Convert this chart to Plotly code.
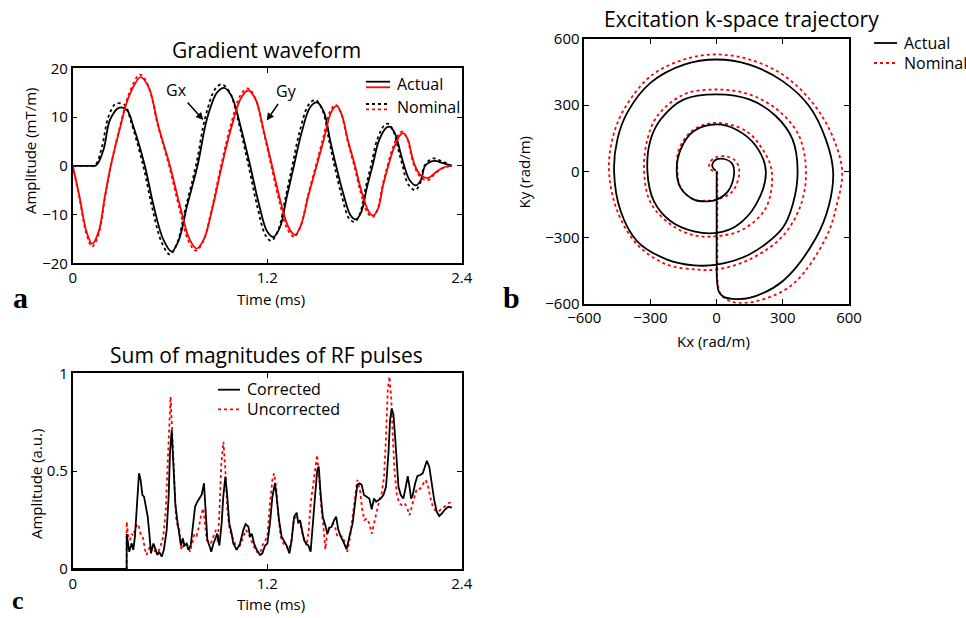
import plotly.graph_objects as go

W, H = 966, 618

# ---------------- panel a: gradient waveforms (mT/m vs ms) ----------------
gx_act_t = [0, 0.10, 0.145, 0.19, 0.23, 0.285, 0.335, 0.375, 0.445, 0.50, 0.56, 0.611, 0.655, 0.705, 0.77,
            0.83, 0.89, 0.934, 0.98, 1.04, 1.095, 1.15, 1.20, 1.238, 1.28, 1.32, 1.365, 1.41, 1.465, 1.507,
            1.55, 1.59, 1.625, 1.67, 1.715, 1.747, 1.78, 1.815, 1.85, 1.89, 1.935, 1.958, 1.99, 2.02, 2.045,
            2.08, 2.12, 2.15, 2.175, 2.23, 2.28, 2.338]
gx_act_v = [0, 0, 0.1, 3.3, 9.4, 11.9, 11.4, 8.0, 0, -8.3, -15.2, -17.6, -15.2, -8.3, 0,
            9.8, 15.0, 16.0, 14.3, 7.5, 0, -8.0, -13.5, -14.6, -12.5, -6.5, 0, 6.5, 12.0, 13.0,
            11.0, 5.0, 0, -5.8, -10.2, -11.0, -9.5, -4.5, 0, 5.2, 7.8, 8.0, 6.5, 3.0, 0,
            -3.0, -4.0, -2.8, 0, 1.0, 0.6, 0]

gx_nom_t = [0, 0.10, 0.14, 0.18, 0.22, 0.265, 0.32, 0.36, 0.435, 0.49, 0.55, 0.60, 0.645, 0.695, 0.76,
            0.82, 0.88, 0.92, 0.97, 1.03, 1.085, 1.14, 1.19, 1.225, 1.27, 1.31, 1.355, 1.40, 1.455, 1.497,
            1.54, 1.58, 1.615, 1.66, 1.705, 1.738, 1.77, 1.805, 1.84, 1.88, 1.925, 1.948, 1.98, 2.01, 2.035,
            2.07, 2.113, 2.145, 2.17, 2.22, 2.28, 2.338]
gx_nom_v = [0, 0, 0.2, 3.8, 10.0, 12.7, 12.5, 9.0, 0, -8.5, -15.8, -18.2, -15.8, -8.8, 0,
            10.2, 15.8, 16.7, 15.0, 8.0, 0, -8.5, -14.3, -15.4, -13.0, -7.0, 0, 7.0, 12.5, 13.5,
            11.5, 5.5, 0, -6.2, -10.8, -11.5, -10.0, -4.8, 0, 5.5, 8.4, 8.6, 7.0, 3.2, 0,
            -3.8, -5.0, -3.5, 0, 1.5, 0.9, 0]

gy_act_t = [0, 0.04, 0.085, 0.12, 0.16, 0.20, 0.235, 0.29, 0.35, 0.42, 0.47, 0.53, 0.60, 0.66, 0.72,
            0.765, 0.81, 0.86, 0.92, 0.98, 1.04, 1.085, 1.13, 1.18, 1.23, 1.28, 1.33, 1.372, 1.41, 1.455,
            1.505, 1.55, 1.595, 1.629, 1.66, 1.70, 1.742, 1.78, 1.825, 1.855, 1.885, 1.915, 1.947, 1.98,
            2.02, 2.04, 2.07, 2.09, 2.112, 2.15, 2.194, 2.24, 2.29, 2.338]
gy_act_v = [0, -6.0, -13.5, -16.0, -13.5, -6.0, 0, 7.5, 14.5, 18.2, 16.0, 8.0, 0, -8.0, -15.0,
            -17.0, -15.0, -9.0, 0, 8.0, 14.0, 15.5, 13.5, 7.0, 0, -7.0, -12.5, -14.2, -12.0, -6.0,
            0, 5.5, 11.0, 12.3, 10.5, 5.0, 0, -5.0, -9.3, -10.2, -8.7, -4.0, 0, 3.5,
            6.3, 6.7, 5.2, 2.5, 0, -2.0, -2.5, -1.3, -0.3, 0]

gy_nom_t = [0, 0.04, 0.085, 0.12, 0.16, 0.20, 0.235, 0.29, 0.35, 0.415, 0.465, 0.525, 0.595, 0.655, 0.715,
            0.76, 0.805, 0.855, 0.915, 0.975, 1.035, 1.08, 1.125, 1.175, 1.225, 1.275, 1.325, 1.367, 1.405, 1.45,
            1.50, 1.545, 1.59, 1.624, 1.655, 1.695, 1.737, 1.775, 1.82, 1.85, 1.88, 1.91, 1.942, 1.975,
            2.015, 2.035, 2.065, 2.085, 2.107, 2.145, 2.19, 2.235, 2.29, 2.338]
gy_nom_v = [0, -6.3, -14.0, -16.6, -14.0, -6.3, 0, 7.8, 15.0, 18.7, 16.5, 8.3, 0, -8.3, -15.5,
            -17.4, -15.5, -9.3, 0, 8.3, 14.5, 15.9, 14.0, 7.3, 0, -7.3, -13.0, -14.6, -12.5, -6.3,
            0, 5.7, 11.3, 12.5, 10.8, 5.2, 0, -5.3, -9.7, -10.5, -9.0, -4.3, 0, 3.7,
            6.6, 7.0, 5.5, 2.7, 0, -2.3, -3.0, -1.6, -0.4, 0]

# ---------------- panel b: excitation k-space trajectory (rad/m) ----------------
k_act_x = [0, 0, 0, 0, 0, 2, 10, 30, 72, 148, 299, 450, 510, 528, 495, 419, 299, 148, 0, -148, -299, -405,
           -450, -465, -435, -360, -224, -103, 0, 148, 299, 345, 367, 344, 268, 148, 0, -148, -254, -299,
           -314, -284, -208, -103, 0, 87, 178, 223, 178, 88, 0, -103, -163, -181, -163, -103, -42, 0,
           50, 78, 72, 35, -5, -20, -14, -3]
k_act_y = [0, -100, -200, -300, -400, -500, -545, -568, -578, -574, -498, -302, -150, 0, 145, 296, 409, 484,
           507, 484, 402, 266, 145, 0, -181, -317, -400, -426, -423, -377, -257, -150, 0, 145, 251, 326,
           349, 326, 235, 145, 0, -136, -226, -272, -279, -249, -151, 0, 115, 190, 213, 183, 100, 0, -75,
           -128, -136, -128, -92, -20, 32, 56, 52, 30, 12, 4]

k_nom_x = [3, 3, 3, 3, 3, 4, 19, 72, 178, 344, 495, 545, 569, 525, 435, 299, 148, 0, -148, -299, -420,
           -473, -488, -450, -360, -224, -88, 0, 148, 299, 382, 405, 374, 283, 148, 0, -148, -269, -314,
           -329, -299, -208, -103, 0, 118, 223, 250, 208, 133, 0, -103, -171, -178, -163, -103, -42, 0,
           72, 103, 85, 40, -8, -33, -28, -10]
k_nom_y = [0, -100, -200, -300, -400, -498, -558, -592, -589, -513, -302, -150, 0, 160, 311, 439, 507,
           530, 507, 432, 281, 145, 0, -181, -332, -423, -445, -445, -400, -294, -151, 0, 160, 273, 349,
           371, 349, 251, 145, 0, -143, -241, -290, -294, -264, -166, 0, 100, 183, 220, 190, 100, 0, -75,
           -128, -133, -128, -91, 0, 48, 68, 62, 36, 10, 0]

# ---------------- panel c: sum of RF pulse magnitudes (a.u.) ----------------
rf_cor_t = [0, 0.333, 0.3331, 0.349, 0.364, 0.374, 0.384, 0.395, 0.409, 0.419, 0.430, 0.440, 0.450, 0.463,
            0.473, 0.483, 0.498, 0.508, 0.522, 0.534, 0.549, 0.563, 0.580, 0.592, 0.600, 0.611, 0.621,
            0.633, 0.645, 0.658, 0.668, 0.679, 0.689, 0.703, 0.713, 0.728, 0.740, 0.755, 0.769, 0.785,
            0.796, 0.810, 0.821, 0.831, 0.843, 0.855, 0.868, 0.880, 0.892, 0.905, 0.919, 0.929, 0.942,
            0.954, 0.966, 0.981, 0.991, 1.012, 1.032, 1.053, 1.067, 1.084, 1.094, 1.105, 1.119, 1.135,
            1.156, 1.170, 1.187, 1.201, 1.217, 1.232, 1.248, 1.258, 1.273, 1.289, 1.304, 1.320, 1.337,
            1.351, 1.366, 1.382, 1.392, 1.403, 1.415, 1.427, 1.440, 1.454, 1.468, 1.481, 1.495, 1.509,
            1.518, 1.530, 1.543, 1.557, 1.572, 1.584, 1.598, 1.613, 1.625, 1.639, 1.654, 1.670, 1.690,
            1.707, 1.727, 1.742, 1.756, 1.769, 1.783, 1.797, 1.814, 1.830, 1.845, 1.859, 1.872, 1.886,
            1.900, 1.917, 1.933, 1.948, 1.958, 1.968, 1.979, 1.989, 2.000, 2.010, 2.024, 2.040, 2.055,
            2.067, 2.078, 2.088, 2.098, 2.113, 2.127, 2.144, 2.160, 2.174, 2.185, 2.200, 2.216, 2.231,
            2.246, 2.261, 2.277, 2.298, 2.318, 2.339]
rf_cor_v = [0, 0, 0.18, 0.088, 0.131, 0.098, 0.165, 0.30, 0.489, 0.455, 0.378, 0.37, 0.327, 0.267,
            0.18, 0.08, 0.13, 0.10, 0.072, 0.088, 0.063, 0.10, 0.20, 0.37, 0.59, 0.71, 0.54,
            0.336, 0.25, 0.18, 0.12, 0.157, 0.12, 0.13, 0.098, 0.12, 0.216, 0.318, 0.344, 0.37,
            0.38, 0.438, 0.30, 0.148, 0.12, 0.088, 0.13, 0.157, 0.18, 0.12, 0.233, 0.37, 0.472,
            0.37, 0.233, 0.18, 0.13, 0.098, 0.13, 0.20, 0.23, 0.216, 0.165, 0.18, 0.13, 0.098,
            0.072, 0.08, 0.12, 0.13, 0.233, 0.37, 0.438, 0.37, 0.25, 0.165, 0.14, 0.12, 0.08,
            0.148, 0.267, 0.288, 0.233, 0.25, 0.20, 0.148, 0.13, 0.12, 0.088, 0.25, 0.37, 0.506,
            0.523, 0.38, 0.267, 0.228, 0.18, 0.21, 0.216, 0.25, 0.267, 0.20, 0.165, 0.14, 0.10,
            0.165, 0.233, 0.336, 0.43, 0.438, 0.43, 0.378, 0.37, 0.36, 0.305, 0.36, 0.344, 0.35,
            0.36, 0.378, 0.42, 0.59, 0.76, 0.82, 0.79, 0.676, 0.54, 0.42, 0.378, 0.36, 0.42,
            0.475, 0.42, 0.36, 0.378, 0.438, 0.475, 0.48, 0.489, 0.531, 0.553, 0.523, 0.43, 0.35,
            0.293, 0.271, 0.283, 0.305, 0.318, 0.314]

rf_unc_t = [0, 0.333, 0.3331, 0.343, 0.354, 0.364, 0.374, 0.384, 0.399, 0.409, 0.419, 0.432, 0.446, 0.456,
            0.467, 0.481, 0.498, 0.514, 0.528, 0.543, 0.559, 0.574, 0.586, 0.596, 0.604, 0.615, 0.625,
            0.637, 0.648, 0.658, 0.670, 0.683, 0.695, 0.710, 0.724, 0.738, 0.751, 0.765, 0.779, 0.794,
            0.806, 0.816, 0.827, 0.839, 0.851, 0.868, 0.884, 0.895, 0.905, 0.917, 0.930, 0.942, 0.954,
            0.966, 0.981, 0.995, 1.012, 1.032, 1.053, 1.069, 1.084, 1.098, 1.115, 1.135, 1.156, 1.170,
            1.187, 1.201, 1.217, 1.232, 1.242, 1.255, 1.269, 1.283, 1.300, 1.316, 1.331, 1.347, 1.361,
            1.376, 1.388, 1.403, 1.417, 1.432, 1.444, 1.456, 1.468, 1.485, 1.497, 1.508, 1.520, 1.533,
            1.547, 1.559, 1.572, 1.588, 1.604, 1.619, 1.633, 1.649, 1.666, 1.680, 1.694, 1.711, 1.727,
            1.742, 1.756, 1.773, 1.787, 1.800, 1.814, 1.830, 1.845, 1.859, 1.876, 1.892, 1.907, 1.921,
            1.933, 1.944, 1.954, 1.965, 1.975, 1.985, 2.000, 2.014, 2.030, 2.047, 2.061, 2.078, 2.092,
            2.107, 2.123, 2.144, 2.160, 2.177, 2.191, 2.205, 2.222, 2.237, 2.257, 2.277, 2.298, 2.318,
            2.339]
rf_unc_v = [0, 0, 0.242, 0.165, 0.148, 0.18, 0.17, 0.20, 0.23, 0.216, 0.18, 0.165, 0.10, 0.072,
            0.098, 0.12, 0.088, 0.098, 0.088, 0.12, 0.165, 0.30, 0.54, 0.778, 0.88, 0.676, 0.455,
            0.267, 0.216, 0.20, 0.098, 0.12, 0.13, 0.12, 0.088, 0.13, 0.18, 0.17, 0.216, 0.283,
            0.31, 0.233, 0.148, 0.14, 0.13, 0.165, 0.20, 0.14, 0.283, 0.54, 0.65, 0.506, 0.30,
            0.216, 0.165, 0.148, 0.098, 0.12, 0.165, 0.20, 0.18, 0.148, 0.12, 0.088, 0.08, 0.12,
            0.148, 0.165, 0.336, 0.455, 0.489, 0.42, 0.267, 0.165, 0.13, 0.12, 0.098, 0.13, 0.233,
            0.267, 0.25, 0.233, 0.18, 0.148, 0.12, 0.20, 0.336, 0.438, 0.523, 0.583, 0.472, 0.318,
            0.216, 0.10, 0.20, 0.216, 0.233, 0.216, 0.165, 0.17, 0.165, 0.13, 0.088, 0.165, 0.267,
            0.38, 0.455, 0.40, 0.30, 0.25, 0.258, 0.233, 0.18, 0.233, 0.30, 0.35, 0.39, 0.472,
            0.676, 0.915, 0.983, 0.88, 0.676, 0.506, 0.38, 0.336, 0.327, 0.336, 0.318, 0.275, 0.318,
            0.37, 0.41, 0.41, 0.43, 0.455, 0.43, 0.37, 0.318, 0.30, 0.293, 0.31, 0.32, 0.336,
            0.344]

time_ticks = [0, 1.2, 2.4]
grad_ticks = [-20, -10, 0, 10, 20]
k_ticks = [-600, -300, 0, 300, 600]
rf_ticks = [0, 0.5, 1]

BLACK = "#000000"
RED = "#ff0000"
FONT = "Open Sans"


def px(x):
    return x / W


def py(y):
    return 1 - y / H


fig = go.Figure()


def add(xs, ys, color, dash, xa, ya, shape="spline", width=1.8):
    fig.add_trace(go.Scatter(x=xs, y=ys, mode="lines", xaxis=xa, yaxis=ya,
                             line=dict(color=color, dash=dash, width=width, shape=shape),
                             showlegend=False, hoverinfo="skip"))


# panel a (dotted nominal drawn under solid actual)
add(gx_nom_t, gx_nom_v, BLACK, "dot", "x", "y")
add(gy_nom_t, gy_nom_v, RED, "dot", "x", "y")
add(gx_act_t, gx_act_v, BLACK, "solid", "x", "y")
add(gy_act_t, gy_act_v, RED, "solid", "x", "y")

# panel b
add(k_nom_x, k_nom_y, RED, "dot", "x2", "y2")
add(k_act_x, k_act_y, BLACK, "solid", "x2", "y2")

# panel c
add(rf_unc_t, rf_unc_v, RED, "dot", "x3", "y3", shape="linear")
add(rf_cor_t, rf_cor_v, BLACK, "solid", "x3", "y3", shape="linear")

tickfont = dict(family=FONT, size=15, color="black")


def axis(domain, rng, ticks, anchor):
    return dict(domain=domain, range=rng, tickvals=ticks, ticks="inside", ticklen=5,
                tickwidth=1, tickcolor="black", showline=True, linecolor="black",
                linewidth=1.5, mirror="ticks", showgrid=False, zeroline=False,
                tickfont=tickfont, anchor=anchor, fixedrange=True, automargin=False)


xa_dom = [px(72.7), px(461.7)]
fig.update_layout(
    template="none",
    xaxis=axis(xa_dom, [0, 2.4], time_ticks, "y"),
    yaxis=axis([py(263.3), py(68.3)], [-20, 20], grad_ticks, "x"),
    xaxis2=axis([px(584.3), px(849)], [-600, 600], k_ticks, "y2"),
    yaxis2=axis([py(303.7), py(39)], [-600, 600], k_ticks, "x2"),
    xaxis3=axis(xa_dom, [0, 2.4], time_ticks, "y3"),
    yaxis3=axis([py(569), py(373.3)], [0, 1], rf_ticks, "x3"),
)
fig.layout.yaxis3.ticktext = ["0", "0.5", "1"]

ann = []


def text(x, y, s, size=15, xanchor="center", yanchor="middle", angle=0, family=FONT, bold=False):
    ann.append(dict(x=px(x), y=py(y), xref="paper", yref="paper", text=("<b>%s</b>" % s if bold else s),
                    showarrow=False, xanchor=xanchor, yanchor=yanchor, textangle=angle,
                    font=dict(family=family, size=size, color="black")))


# titles
text(266.5, 50, "Gradient waveform", size=21)
text(741.7, 19, "Excitation k-space trajectory", size=21)
text(266.7, 355, "Sum of magnitudes of RF pulses", size=21)

# axis titles
text(270.8, 299, "Time (ms)")
text(30, 151, "Amplitude (mT/m)", angle=-90)
text(713.3, 341, "Kx (rad/m)")
text(523.5, 173, "Ky (rad/m)", angle=-90)
text(270.7, 604, "Time (ms)")
text(36, 484, "Amplitude (a.u.)", angle=-90)

# panel letters
text(20, 297, "a", size=30, family="Liberation Serif", bold=True)
text(511, 297, "b", size=30, family="Liberation Serif", bold=True)
text(18, 600, "c", size=26, family="Liberation Serif", bold=True)

# legend texts
text(395, 84, "Actual", xanchor="left", size=16)
text(395, 106.7, "Nominal", xanchor="left", size=16)
text(902, 43, "Actual", xanchor="left", size=16)
text(902, 63, "Nominal", xanchor="left", size=16)
text(245, 389, "Corrected", xanchor="left", size=16)
text(245, 409.3, "Uncorrected", xanchor="left", size=16)

# Gx / Gy arrows
ann.append(dict(x=0.806, y=9.4, xref="x", yref="y", text="Gx", showarrow=True, ax=-27, ay=-30,
                arrowhead=2, arrowsize=1, arrowwidth=1.5, arrowcolor="black",
                font=dict(family=FONT, size=16, color="black")))
ann.append(dict(x=1.197, y=9.3, xref="x", yref="y", text="Gy", showarrow=True, ax=20, ay=-29,
                arrowhead=2, arrowsize=1, arrowwidth=1.5, arrowcolor="black",
                font=dict(family=FONT, size=16, color="black")))

shapes = []


def seg(x0, x1, y, color, dash):
    shapes.append(dict(type="line", xref="paper", yref="paper", x0=px(x0), x1=px(x1), y0=py(y), y1=py(y),
                       line=dict(color=color, width=1.8, dash=dash)))


seg(366, 390, 81.7, BLACK, "solid")
seg(366, 390, 87.3, RED, "solid")
seg(366, 390, 104, BLACK, "dot")
seg(366, 390, 109.3, RED, "dot")
seg(874, 897, 43, BLACK, "solid")
seg(874, 897, 63, RED, "dot")
seg(218, 240, 389.7, BLACK, "solid")
seg(218, 240, 409.3, RED, "dot")

fig.update_layout(width=W, height=H, margin=dict(l=0, r=0, t=0, b=0),
                  paper_bgcolor="white", plot_bgcolor="white",
                  annotations=ann, shapes=shapes, showlegend=False)

fig.write_html("out.html")
